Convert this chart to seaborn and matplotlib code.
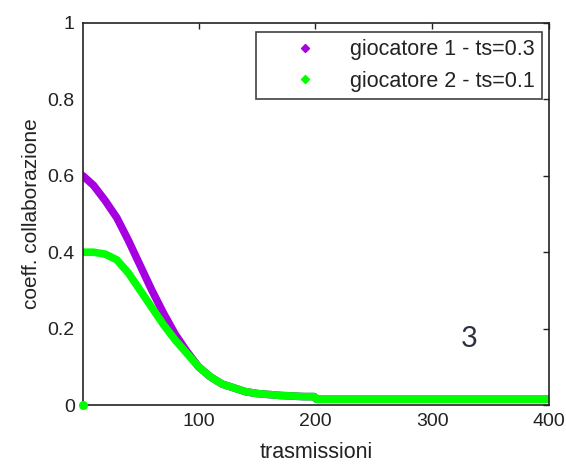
import numpy as np
import pandas as pd
import matplotlib
matplotlib.use("Agg")
import matplotlib.pyplot as plt
from matplotlib.lines import Line2D
import seaborn as sns

# values
trasm = [1, 10, 20, 30, 40, 50, 60, 70, 80, 90, 100, 110, 120, 130, 140,
         150, 170, 190, 199, 201, 250, 300, 350, 400]
coeff_g1 = [0.60, 0.575, 0.535, 0.49, 0.43, 0.365, 0.30, 0.24, 0.185, 0.14,
            0.10, 0.074, 0.055, 0.045, 0.035, 0.03, 0.025, 0.022, 0.022,
            0.015, 0.015, 0.015, 0.015, 0.015]
coeff_g2 = [0.40, 0.40, 0.395, 0.38, 0.345, 0.30, 0.255, 0.21, 0.17, 0.135,
            0.10, 0.074, 0.055, 0.045, 0.035, 0.03, 0.025, 0.022, 0.022,
            0.015, 0.015, 0.015, 0.015, 0.015]
origin_g2 = (1, 0.0)  # stray first point of player 2

labels = ["giocatore 1 - ts=0.3", "giocatore 2 - ts=0.1"]
colors = ["#A600E0", "#00FF00"]

xticks = [100, 200, 300, 400]
yticks = [0, 0.2, 0.4, 0.6, 0.8, 1]
yticklabels = ["0", "0.2", "0.4", "0.6", "0.8", "1"]

df = pd.concat([
    pd.DataFrame({"x": trasm, "y": coeff_g1, "serie": labels[0]}),
    pd.DataFrame({"x": trasm, "y": coeff_g2, "serie": labels[1]}),
])

sns.set_style("white")
plt.rcParams["font.family"] = ["Liberation Sans", "DejaVu Sans"]

fig = plt.figure(figsize=(5.66, 4.68), dpi=100)
ax = fig.add_axes([0.1466, 0.1346, 0.8234, 0.8163])

sns.lineplot(data=df, x="x", y="y", hue="serie", palette=colors,
             linewidth=5.5, legend=False, sort=False, ax=ax)
ax.scatter([origin_g2[0]], [origin_g2[1]], color=colors[1], s=30,
           zorder=5, clip_on=False)

ax.set_xlim(1, 400)
ax.set_ylim(0, 1)
ax.set_xticks(xticks)
ax.set_xticklabels([str(t) for t in xticks])
ax.set_yticks(yticks)
ax.set_yticklabels(yticklabels)
ax.tick_params(direction="in", length=4, width=1, colors="#222222",
               labelsize=14, top=True, right=True, pad=6)
ax.tick_params(axis="both", labelcolor="#222222")
for sp in ax.spines.values():
    sp.set_color("#222222")
    sp.set_linewidth(1.2)

ax.set_xlabel("trasmissioni", fontsize=15.5, color="#222222")
ax.set_ylabel("coeff. collaborazione", fontsize=15, color="#222222")
ax.xaxis.set_label_coords(0.5, -0.098)
ax.yaxis.set_label_coords(-0.09, 0.5)

handles = [Line2D([], [], linestyle="none", marker="D", markersize=4.5,
                  color=c) for c in colors]
leg = ax.legend(handles, labels, loc="upper right",
                bbox_to_anchor=(0.985, 0.976), borderaxespad=0,
                fontsize=15.5, frameon=True, fancybox=False,
                handletextpad=0.15, borderpad=0.33, labelspacing=0.48,
                handlelength=3.9)
leg.get_frame().set_edgecolor("#111111")
leg.get_frame().set_linewidth(1.2)
for t in leg.get_texts():
    t.set_color("#222222")

ax.text(332, 0.173, "3", fontsize=21, color="#2a3040", ha="center",
        va="center", family=["Lato", "DejaVu Sans"])

fig.savefig("out.png", dpi=100)
